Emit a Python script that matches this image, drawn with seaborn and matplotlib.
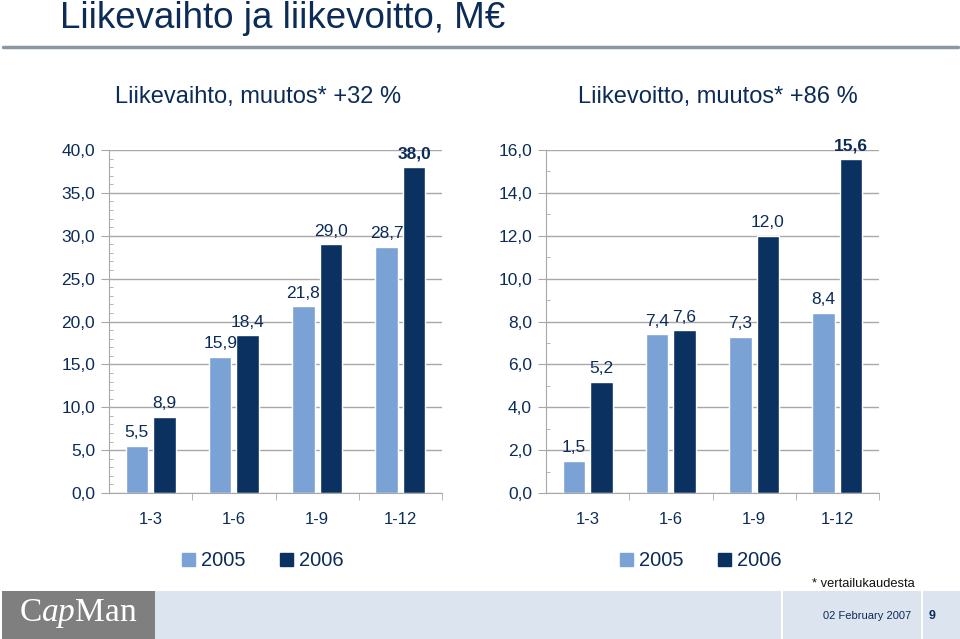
import pandas as pd
import seaborn as sns
import matplotlib.pyplot as plt
from matplotlib.patches import Rectangle, Patch
from matplotlib.lines import Line2D
from matplotlib.ticker import MultipleLocator, FixedLocator, FuncFormatter

# Data
periods = ['1-3', '1-6', '1-9', '1-12']
years = ['2005', '2006']
sales_2005 = [5.5, 15.9, 21.8, 28.7]
sales_2006 = [8.9, 18.4, 29.0, 38.0]
ebit_2005 = [1.5, 7.4, 7.3, 8.4]
ebit_2006 = [5.2, 7.6, 12.0, 15.6]

navy = '#0c2c58'
c05 = '#7ba2d4'
c06 = '#0b3160'
grid_c = '#a8a8a8'

sns.set_style('white')
plt.rcParams['font.family'] = ['Liberation Sans', 'DejaVu Sans']
plt.rcParams['mathtext.fontset'] = 'custom'
plt.rcParams['mathtext.rm'] = 'Liberation Serif'
plt.rcParams['mathtext.it'] = 'Liberation Serif:italic'


def fi(v):
    return f'{v:.1f}'.replace('.', ',')


W, H = 960, 639
fig = plt.figure(figsize=(9.6, 6.39), dpi=100)

# otsikko
fig.text(60 / W, 1 - 18 / H, 'Liikevaihto ja liikevoitto, M€', fontsize=26.5,
         color=navy, ha='left', va='center')
fig.add_artist(Line2D([3 / W, 958 / W], [1 - 47 / H] * 2, color='#8c97a1', lw=2.5))

panels = [
    (sales_2005, sales_2006, 'Liikevaihto, muutos* +32 %', 40, 5, 109, 258, 263),
    (ebit_2005, ebit_2006, 'Liikevoitto, muutos* +86 %', 16, 2, 546, 718, 701),
]

for v05, v06, subtitle, ymax, step, left_px, sub_x, leg_x in panels:
    ax = fig.add_axes([left_px / W, (H - 493) / H, 333 / W, 343 / H])
    df = pd.DataFrame({
        'period': periods * 2,
        'year': [years[0]] * 4 + [years[1]] * 4,
        'value': v05 + v06,
    })
    sns.barplot(data=df, x='period', y='value', hue='year', palette=[c05, c06],
                width=0.66, gap=0.18, saturation=1, legend=False, ax=ax)

    ax.set_xlim(-0.5, 3.5)
    ax.set_ylim(0, ymax)
    ax.set_xlabel('')
    ax.set_ylabel('')
    ax.yaxis.set_major_locator(MultipleLocator(step))
    ax.yaxis.set_minor_locator(MultipleLocator(1))
    ax.yaxis.set_major_formatter(FuncFormatter(lambda v, _: fi(v)))
    ax.yaxis.grid(True, color=grid_c, lw=1)
    ax.set_axisbelow(True)
    ax.xaxis.set_minor_locator(FixedLocator([0.5, 1.5, 2.5, 3.5]))

    for s in ['top', 'right']:
        ax.spines[s].set_visible(False)
    for s in ['left', 'bottom']:
        ax.spines[s].set_color(grid_c)

    ax.tick_params(axis='y', which='major', direction='out', length=6, color=grid_c,
                   labelsize=12.5, labelcolor=navy, pad=4, left=True)
    ax.tick_params(axis='y', which='minor', direction='in', length=3, color=grid_c, left=True)
    ax.tick_params(axis='x', which='major', length=0, labelsize=12, labelcolor=navy, pad=14)
    ax.tick_params(axis='x', which='minor', direction='out', length=5, color=grid_c, bottom=True)

    for cont, vals in zip(ax.containers, [v05, v06]):
        texts = ax.bar_label(cont, labels=[fi(v) for v in vals], padding=4,
                             fontsize=12.5, color=navy)
    texts[-1].set_fontweight('bold')

    fig.text(sub_x / W, 1 - 97 / H, subtitle, fontsize=17, color=navy,
             ha='center', va='center')

    handles = [Patch(color=c05), Patch(color=c06)]
    ax.legend(handles, years, loc='center', bbox_to_anchor=(leg_x / W, 1 - 561 / H),
              bbox_transform=fig.transFigure, ncol=2, frameon=False, fontsize=14.5,
              handlelength=0.65, handleheight=0.65, handletextpad=0.3,
              columnspacing=1.7, labelcolor=navy)

# alapalkki
fig.add_artist(Rectangle((155 / W, 0), 805 / W, 48 / H, transform=fig.transFigure,
                         facecolor='#dce5ef', edgecolor='none'))
fig.add_artist(Rectangle((2 / W, 0), 153 / W, 48 / H, transform=fig.transFigure,
                         facecolor='#7f7f7f', edgecolor='none'))
for xp in [782, 922]:
    fig.add_artist(Line2D([xp / W] * 2, [0, 48 / H], color='white', lw=1.5))
fig.text(78 / W, 1 - 614 / H, r'C$\mathit{ap}$Man', fontsize=24, color='white',
         family=['Liberation Serif', 'DejaVu Serif'], ha='center', va='center')
fig.text(911 / W, 1 - 616 / H, '02 February 2007', fontsize=8, color=navy,
         ha='right', va='center')
fig.text(932 / W, 1 - 616 / H, '9', fontsize=9, color=navy, fontweight='bold',
         ha='center', va='center')
fig.text(863 / W, 1 - 584 / H, '* vertailukaudesta', fontsize=9.3, color='#111111',
         ha='center', va='center')

fig.savefig('out.png', dpi=100)
